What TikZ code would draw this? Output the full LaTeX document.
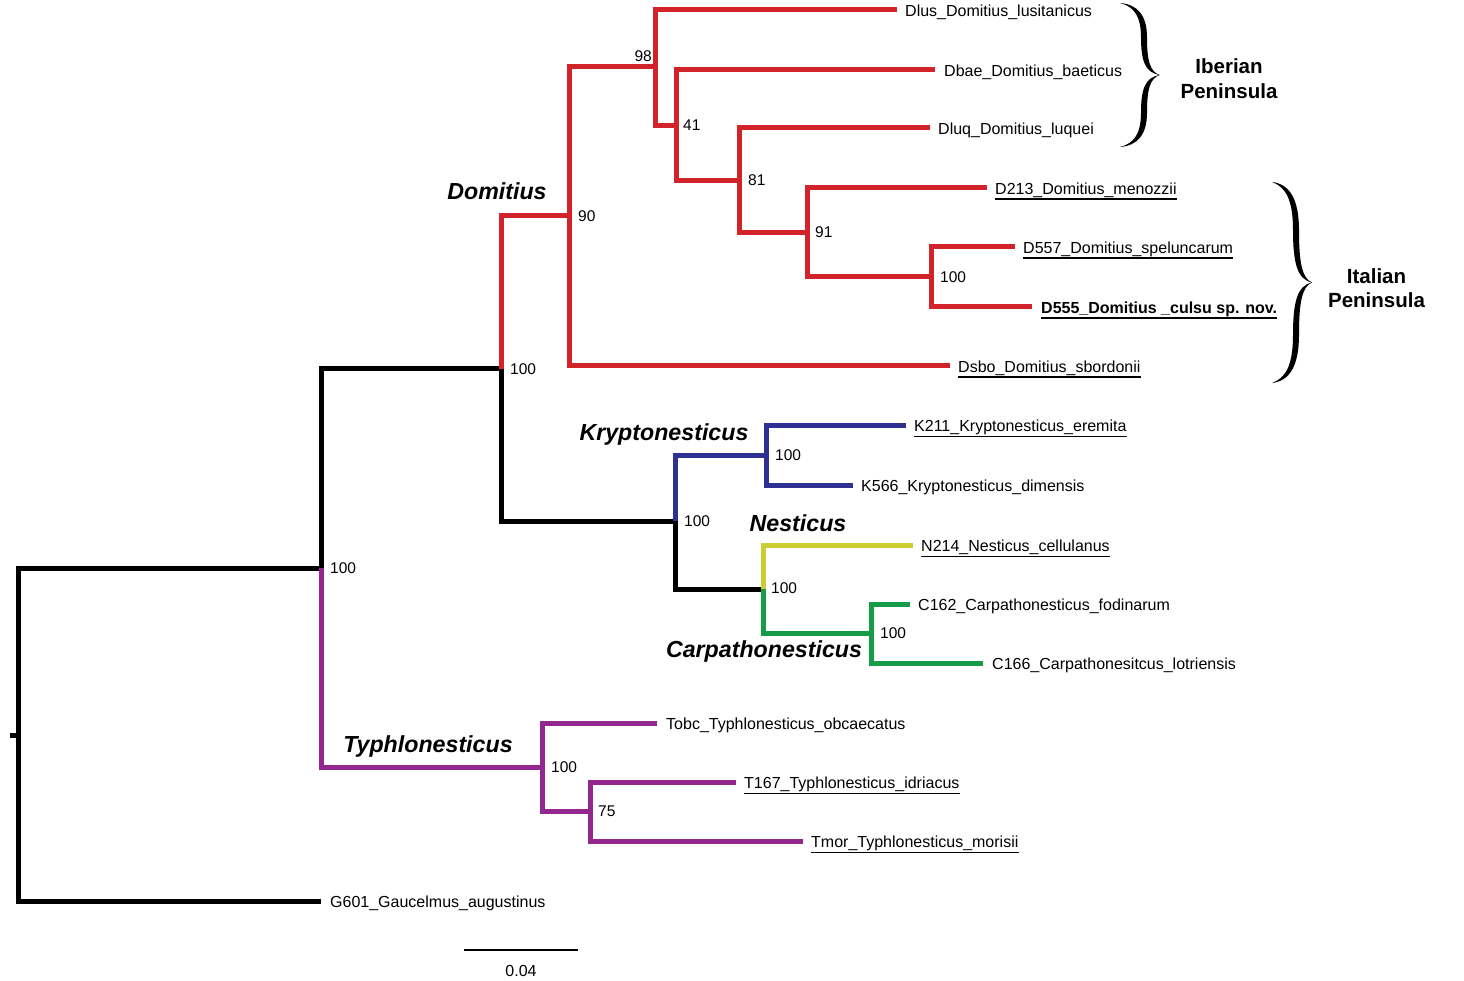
\documentclass[tikz,border=0pt]{standalone}
\usepackage{fontspec}
\setmainfont{Liberation Sans}
\usetikzlibrary{calc}
\definecolor{cred}{HTML}{D2232A}
\definecolor{cblue}{HTML}{2E3192}
\definecolor{cyellow}{HTML}{CCCC33}
\definecolor{cgreen}{HTML}{169B48}
\definecolor{cpurple}{HTML}{92278F}
\begin{document}
\begin{tikzpicture}[x=1pt,y=-1pt,
  br/.style={line width=5pt, line join=miter},
  leaf/.style={anchor=base west, inner sep=0pt, font=\fontsize{16}{19}\selectfont},
  bs/.style={anchor=west, inner sep=0pt, font=\fontsize{15.5}{18}\selectfont},
  clade/.style={anchor=base, inner sep=0pt, font=\fontsize{23.2}{28}\selectfont\bfseries\itshape},
  region/.style={align=center, inner sep=0pt, font=\fontsize{20.5}{24.5}\selectfont\bfseries},
  uline/.style={line width=1.2pt},
  regbrace/.style={fill=black, draw=none}]
\useasboundingbox (0,0) rectangle (1464,981);

% internal nodes
\coordinate (root) at (18,735);
\coordinate (rstub) at (10,735);
\coordinate (nA) at (321,568);
\coordinate (nB) at (501,369);
\coordinate (nD) at (569,216);
\coordinate (n98) at (655,67);
\coordinate (n41) at (676,126);
\coordinate (n81) at (739,181);
\coordinate (n91) at (807,233);
\coordinate (nI) at (931,277);
\coordinate (nKN) at (675,521);
\coordinate (nK) at (766,455);
\coordinate (nNC) at (763,589);
\coordinate (nC) at (871,633);
\coordinate (nT) at (542,767);
\coordinate (n75) at (590,811);
% tips
\coordinate (tDlus) at (897,10);
\coordinate (tDbae) at (935,70);
\coordinate (tDluq) at (930,128);
\coordinate (tD213) at (987,188);
\coordinate (tD557) at (1015,247);
\coordinate (tD555) at (1032,307);
\coordinate (tDsbo) at (950,366);
\coordinate (tK211) at (906,425);
\coordinate (tK566) at (853,485);
\coordinate (tN214) at (913,545);
\coordinate (tC162) at (910,604);
\coordinate (tC166) at (983,663);
\coordinate (tTobc) at (657,723);
\coordinate (tT167) at (736,782);
\coordinate (tTmor) at (803,841);
\coordinate (tG601) at (321,901);

% branches
\draw[br,black] (rstub) -- (root);
\draw[br,black] (nA) -| (root) |- (tG601);
\draw[br,black] (nB) -| (nA);
\draw[br,cpurple] (nA) |- (nT);
\draw[br,cred] (nD) -| (nB);
\draw[br,black] (nB) |- (nKN);
\draw[br,cred] (n98) -| (nD) |- (tDsbo);
\draw[br,cred] (tDlus) -| (n98) |- (n41);
\draw[br,cred] (tDbae) -| (n41) |- (n81);
\draw[br,cred] (tDluq) -| (n81) |- (n91);
\draw[br,cred] (tD213) -| (n91) |- (nI);
\draw[br,cred] (tD557) -| (nI) |- (tD555);
\draw[br,cblue] (nK) -| (nKN);
\draw[br,black] (nKN) |- (nNC);
\draw[br,cblue] (tK211) -| (nK) |- (tK566);
\draw[br,cyellow] (tN214) -| (nNC);
\draw[br,cgreen] (nNC) |- (nC);
\draw[br,cgreen] (tC162) -| (nC) |- (tC166);
\draw[br,cpurple] (tTobc) -| (nT) |- (n75);
\draw[br,cpurple] (tT167) -| (n75) |- (tTmor);

% leaf labels
\node[leaf] (Ldlus) at ($(tDlus)+(8,6.3)$) {Dlus\_Domitius\_lusitanicus};
\node[leaf] (Ldbae) at ($(tDbae)+(9,6.3)$) {Dbae\_Domitius\_baeticus};
\node[leaf] (Ldluq) at ($(tDluq)+(8,6.3)$) {Dluq\_Domitius\_luquei};
\node[leaf] (Ld213) at ($(tD213)+(8,6.3)$) {D213\_Domitius\_menozzii};
\node[leaf] (Ld557) at ($(tD557)+(8,6.3)$) {D557\_Domitius\_speluncarum};
\node[leaf] (Ld555) at ($(tD555)+(9,6.3)$) {\bfseries D555\_Domitius \_culsu sp. nov.};
\node[leaf] (Ldsbo) at ($(tDsbo)+(8,6.3)$) {Dsbo\_Domitius\_sbordonii};
\node[leaf] (Lk211) at ($(tK211)+(8,6.3)$) {K211\_Kryptonesticus\_eremita};
\node[leaf] (Lk566) at ($(tK566)+(8,6.3)$) {K566\_Kryptonesticus\_dimensis};
\node[leaf] (Ln214) at ($(tN214)+(8,6.3)$) {N214\_Nesticus\_cellulanus};
\node[leaf] (Lc162) at ($(tC162)+(8,6.3)$) {C162\_Carpathonesticus\_fodinarum};
\node[leaf] (Lc166) at ($(tC166)+(9,6.3)$) {C166\_Carpathonesitcus\_lotriensis};
\node[leaf] (Ltobc) at ($(tTobc)+(9,6.3)$) {Tobc\_Typhlonesticus\_obcaecatus};
\node[leaf] (Lt167) at ($(tT167)+(8,6.3)$) {T167\_Typhlonesticus\_idriacus};
\node[leaf] (Ltmor) at ($(tTmor)+(8,6.3)$) {Tmor\_Typhlonesticus\_morisii};
\node[leaf] (Lg601) at ($(tG601)+(9,6.3)$) {G601\_Gaucelmus\_augustinus};

\foreach \n in {Ld213,Ld557,Ld555,Ldsbo,Lk211,Ln214,Lt167,Ltmor}
  {\draw[uline] ($(\n.base west)+(0,4.8)$) -- ($(\n.base east)+(0,4.8)$);}

% bootstrap values
\node[bs] (bA) at ($(nA)+(9,0)$) {100};
\node[bs] (bB) at ($(nB)+(9,0)$) {100};
\node[bs] (bD) at ($(nD)+(9,0)$) {90};
\node[bs,anchor=south east] (b98) at ($(n98)+(-3,-5)$) {98};
\node[bs] (b41) at ($(n41)+(7,-1)$) {41};
\node[bs] (b81) at ($(n81)+(9,-1)$) {81};
\node[bs] (b91) at ($(n91)+(8,-1)$) {91};
\node[bs] (bI) at ($(nI)+(9,0)$) {100};
\node[bs] (bK) at ($(nK)+(9,0)$) {100};
\node[bs] (bKN) at ($(nKN)+(9,0)$) {100};
\node[bs] (bNC) at ($(nNC)+(8,-1)$) {100};
\node[bs] (bC) at ($(nC)+(9,0)$) {100};
\node[bs] (bT) at ($(nT)+(9,0)$) {100};
\node[bs] (b75) at ($(n75)+(8,0)$) {75};

% clade names
\node[clade] (cDom) at (497,199.5) {Domitius};
\node[clade] (cKry) at (664,440) {Kryptonesticus};
\node[clade] (cNes) at (798,531) {Nesticus};
\node[clade] (cCar) at (764,657) {Carpathonesticus};
\node[clade] (cTyp) at (428,752) {Typhlonesticus};

% region braces
\begin{scope}[shift={(1120,3)}, yscale=144]
\fill[regbrace] (0,0) .. controls (17,0.01) and (27,0.08) .. (27,0.24)
  .. controls (27,0.40) and (30,0.48) .. (40,0.5)
  .. controls (30,0.52) and (27,0.60) .. (27,0.76)
  .. controls (27,0.92) and (17,0.99) .. (0,1)
  .. controls (14,0.975) and (21,0.91) .. (21,0.76)
  .. controls (21,0.60) and (25,0.515) .. (40,0.5)
  .. controls (25,0.485) and (21,0.40) .. (21,0.24)
  .. controls (21,0.09) and (14,0.025) .. (0,0) -- cycle;
\end{scope}
\begin{scope}[shift={(1272,182)}, yscale=201]
\fill[regbrace] (0,0) .. controls (17,0.01) and (27,0.08) .. (27,0.24)
  .. controls (27,0.40) and (30,0.48) .. (40,0.5)
  .. controls (30,0.52) and (27,0.60) .. (27,0.76)
  .. controls (27,0.92) and (17,0.99) .. (0,1)
  .. controls (14,0.975) and (21,0.91) .. (21,0.76)
  .. controls (21,0.60) and (25,0.515) .. (40,0.5)
  .. controls (25,0.485) and (21,0.40) .. (21,0.24)
  .. controls (21,0.09) and (14,0.025) .. (0,0) -- cycle;
\end{scope}
\node[region] (rIb) at (1229,78.7) {Iberian\\Peninsula};
\node[region] (rIt) at (1376.5,288.4) {Italian\\Peninsula};

% scale bar
\coordinate (sbL) at (464,950);
\coordinate (sbR) at (578,950);
\draw[line width=1.5pt] (sbL) -- (sbR);
\node[inner sep=0pt, font=\fontsize{16}{19}\selectfont] (sbT) at (521,971) {0.04};
\end{tikzpicture}
\end{document}
